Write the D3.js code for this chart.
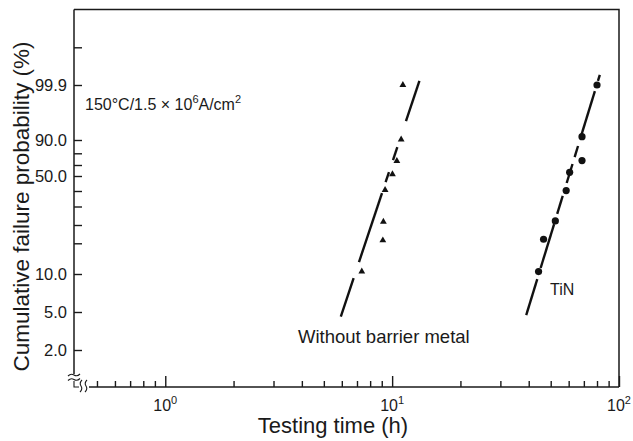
<!DOCTYPE html>
<html>
<head>
<meta charset="utf-8">
<script src="https://cdn.jsdelivr.net/npm/d3@7"></script>
<style>
  html, body { margin: 0; padding: 0; background: #fff; }
  svg { display: block; font-family: "Liberation Sans", Arial, Helvetica, sans-serif; }
</style>
</head>
<body>
<svg id="chart" width="633" height="441"></svg>
<script>
// ---------------- data ----------------
// y-axis tick values (cumulative failure probability, %) and the labelled subset
const yTickValues = [2, 5, 10, 15, 20, 30, 40, 50, 70, 80, 90, 99.9, 99.99];
const yTickLabels = [2, 5, 10, 50, 90, 99.9];
// x-axis (testing time, h) tick values, labelled decades
const xTickValues = [0.5, 0.6, 0.7, 0.8, 0.9, 1, 2, 3, 4, 5, 6, 7, 8, 9, 10,
                     20, 30, 40, 50, 60, 70, 80, 90, 100];
const xTickLabels = [1, 10, 100];

// Without barrier metal (triangles)
const withoutTime = [11.15, 10.96, 10.49, 10.03, 9.31, 9.15, 9.10, 7.35];
const withoutProb = [99.9, 90.1, 73.4, 53.1, 40.7, 21.8, 15.8, 10.4];
// TiN (circles)
const tinTime = [80.0, 68.7, 68.7, 60.6, 58.5, 52.4, 46.5, 44.2];
const tinProb = [99.9, 90.6, 73.8, 56.7, 40.3, 22.2, 16.1, 10.4];

// fitted lines: end points (time, probability)
const withoutFitTime = [5.94, 13.19];
const withoutFitProb = [4.64, 99.91];
const tinFitTime = [39.0, 82.3];
const tinFitProb = [4.76, 99.924];
// drawn pieces of each fitted line (fractions along the line)
const withoutPieces = [[0, 0.163], [0.231, 0.524], [0.57, 0.613], [0.664, 0.719], [0.829, 1]];
const tinPieces = [[0, 0.15], [0.196, 0.379], [0.421, 0.496], [0.55, 0.629], [0.658, 0.704], [0.746, 0.933], [0.975, 1]];

// ---------------- chart ----------------
const svg = d3.select("#chart");
const pLeft = 74, pRight = 619, pTop = 9.5, pBottom = 387;
const ink = "#1a1a1a";

const x = d3.scaleLog().domain([0.396, 100]).range([pLeft, pRight]);
const y = d3.scaleLinear()
  .domain(yTickValues)
  .range([350, 312, 274, 243.3, 225, 206.5, 191, 176, 165, 153.3, 140, 85, 47.3]);

// frame: top and right
svg.append("path")
  .attr("d", `M${pLeft},${pTop}H${pRight}V${pBottom}`)
  .attr("fill", "none").attr("stroke", ink).attr("stroke-width", 1.5);

// y axis line (with break near bottom)
svg.append("line").attr("x1", pLeft).attr("x2", pLeft).attr("y1", pTop).attr("y2", 374)
  .attr("stroke", ink).attr("stroke-width", 1.5);
// x axis line (starts after break)
svg.append("line").attr("x1", 89).attr("x2", pRight).attr("y1", pBottom).attr("y2", pBottom)
  .attr("stroke", ink).attr("stroke-width", 1.5);

// break symbols
const brk = svg.append("g").attr("fill", "none").attr("stroke", ink).attr("stroke-width", 1.1);
brk.append("path").attr("d", "M68,376 q3,-3 6,-1 t6,-1");
brk.append("path").attr("d", "M68,380.5 q3,-3 6,-1 t6,-1");
brk.append("path").attr("d", `M${pLeft},381 V${pBottom} H79`);
brk.append("path").attr("d", "M82,380 q-3,3 -1,6 t-1,6");
brk.append("path").attr("d", "M87,380 q-3,3 -1,6 t-1,6");

// y ticks (inward) with labels
const yAxis = d3.axisLeft(y)
  .tickValues(yTickValues)
  .tickSizeInner(-8).tickSizeOuter(0).tickPadding(7)
  .tickFormat(d => yTickLabels.includes(d) ? d3.format(".1f")(d) : "");
const gy = svg.append("g").attr("transform", `translate(${pLeft},0)`).call(yAxis);
gy.select(".domain").remove();
gy.selectAll(".tick line").attr("stroke", ink).attr("stroke-width", 1.4);
gy.selectAll(".tick text").attr("font-size", 16.5).attr("fill", ink)
  .attr("font-family", "Liberation Sans, Arial, sans-serif").attr("dy", "0.36em");

// x ticks (inward)
const xAxis = d3.axisBottom(x)
  .tickValues(xTickValues)
  .tickSizeOuter(0).tickFormat("");
const gx = svg.append("g").attr("transform", `translate(0,${pBottom})`).call(xAxis);
gx.select(".domain").remove();
gx.selectAll(".tick line")
  .attr("y2", d => xTickLabels.includes(d) ? -11 : -6)
  .attr("stroke", ink).attr("stroke-width", 1.4);

// x tick labels 10^n
const xl = svg.append("g").attr("font-size", 16).attr("fill", ink);
xTickLabels.forEach(v => {
  const t = xl.append("text").attr("x", x(v)).attr("y", 410.5).attr("text-anchor", "middle");
  t.append("tspan").text("10");
  t.append("tspan").attr("font-size", 11).attr("dy", -7).text(Math.round(Math.log10(v)));
});

// axis titles
svg.append("text").attr("x", 333).attr("y", 432.5).attr("text-anchor", "middle")
  .attr("font-size", 22).attr("fill", ink).text("Testing time (h)");
svg.append("text").attr("transform", "translate(29,206.5) rotate(-90)")
  .attr("text-anchor", "middle").attr("font-size", 22.5).attr("fill", ink)
  .text("Cumulative failure probability (%)");

// annotation
const ann = svg.append("text").attr("x", 85).attr("y", 110).attr("font-size", 16).attr("fill", ink);
ann.append("tspan").text("150°C/1.5 \u00d7 10");
ann.append("tspan").attr("font-size", 11).attr("dy", -7).text("6");
ann.append("tspan").attr("dy", 7).text("A/cm");
ann.append("tspan").attr("font-size", 11).attr("dy", -7).text("2");

// fitted lines in pieces
function drawFit(times, probs, pieces) {
  const x0 = x(times[0]), y0 = y(probs[0]), x1 = x(times[1]), y1 = y(probs[1]);
  svg.append("g").selectAll("line").data(pieces).join("line")
    .attr("x1", p => x0 + (x1 - x0) * p[0]).attr("y1", p => y0 + (y1 - y0) * p[0])
    .attr("x2", p => x0 + (x1 - x0) * p[1]).attr("y2", p => y0 + (y1 - y0) * p[1])
    .attr("stroke", "#111").attr("stroke-width", 2.4);
}
drawFit(withoutFitTime, withoutFitProb, withoutPieces);
drawFit(tinFitTime, tinFitProb, tinPieces);

// markers
const tri = d3.symbol().type(d3.symbolTriangle).size(20);
svg.append("g").selectAll("path").data(withoutTime).join("path")
  .attr("d", tri)
  .attr("transform", (d, i) => `translate(${x(d)},${y(withoutProb[i])})`)
  .attr("fill", "#111");
svg.append("g").selectAll("circle").data(tinTime).join("circle")
  .attr("cx", d => x(d)).attr("cy", (d, i) => y(tinProb[i])).attr("r", 3.6)
  .attr("fill", "#111");

// series labels
svg.append("text").attr("x", 298).attr("y", 343).attr("font-size", 18.5).attr("fill", ink)
  .text("Without barrier metal");
svg.append("text").attr("x", 550).attr("y", 295).attr("font-size", 16).attr("fill", ink)
  .text("TiN");
</script>
</body>
</html>
